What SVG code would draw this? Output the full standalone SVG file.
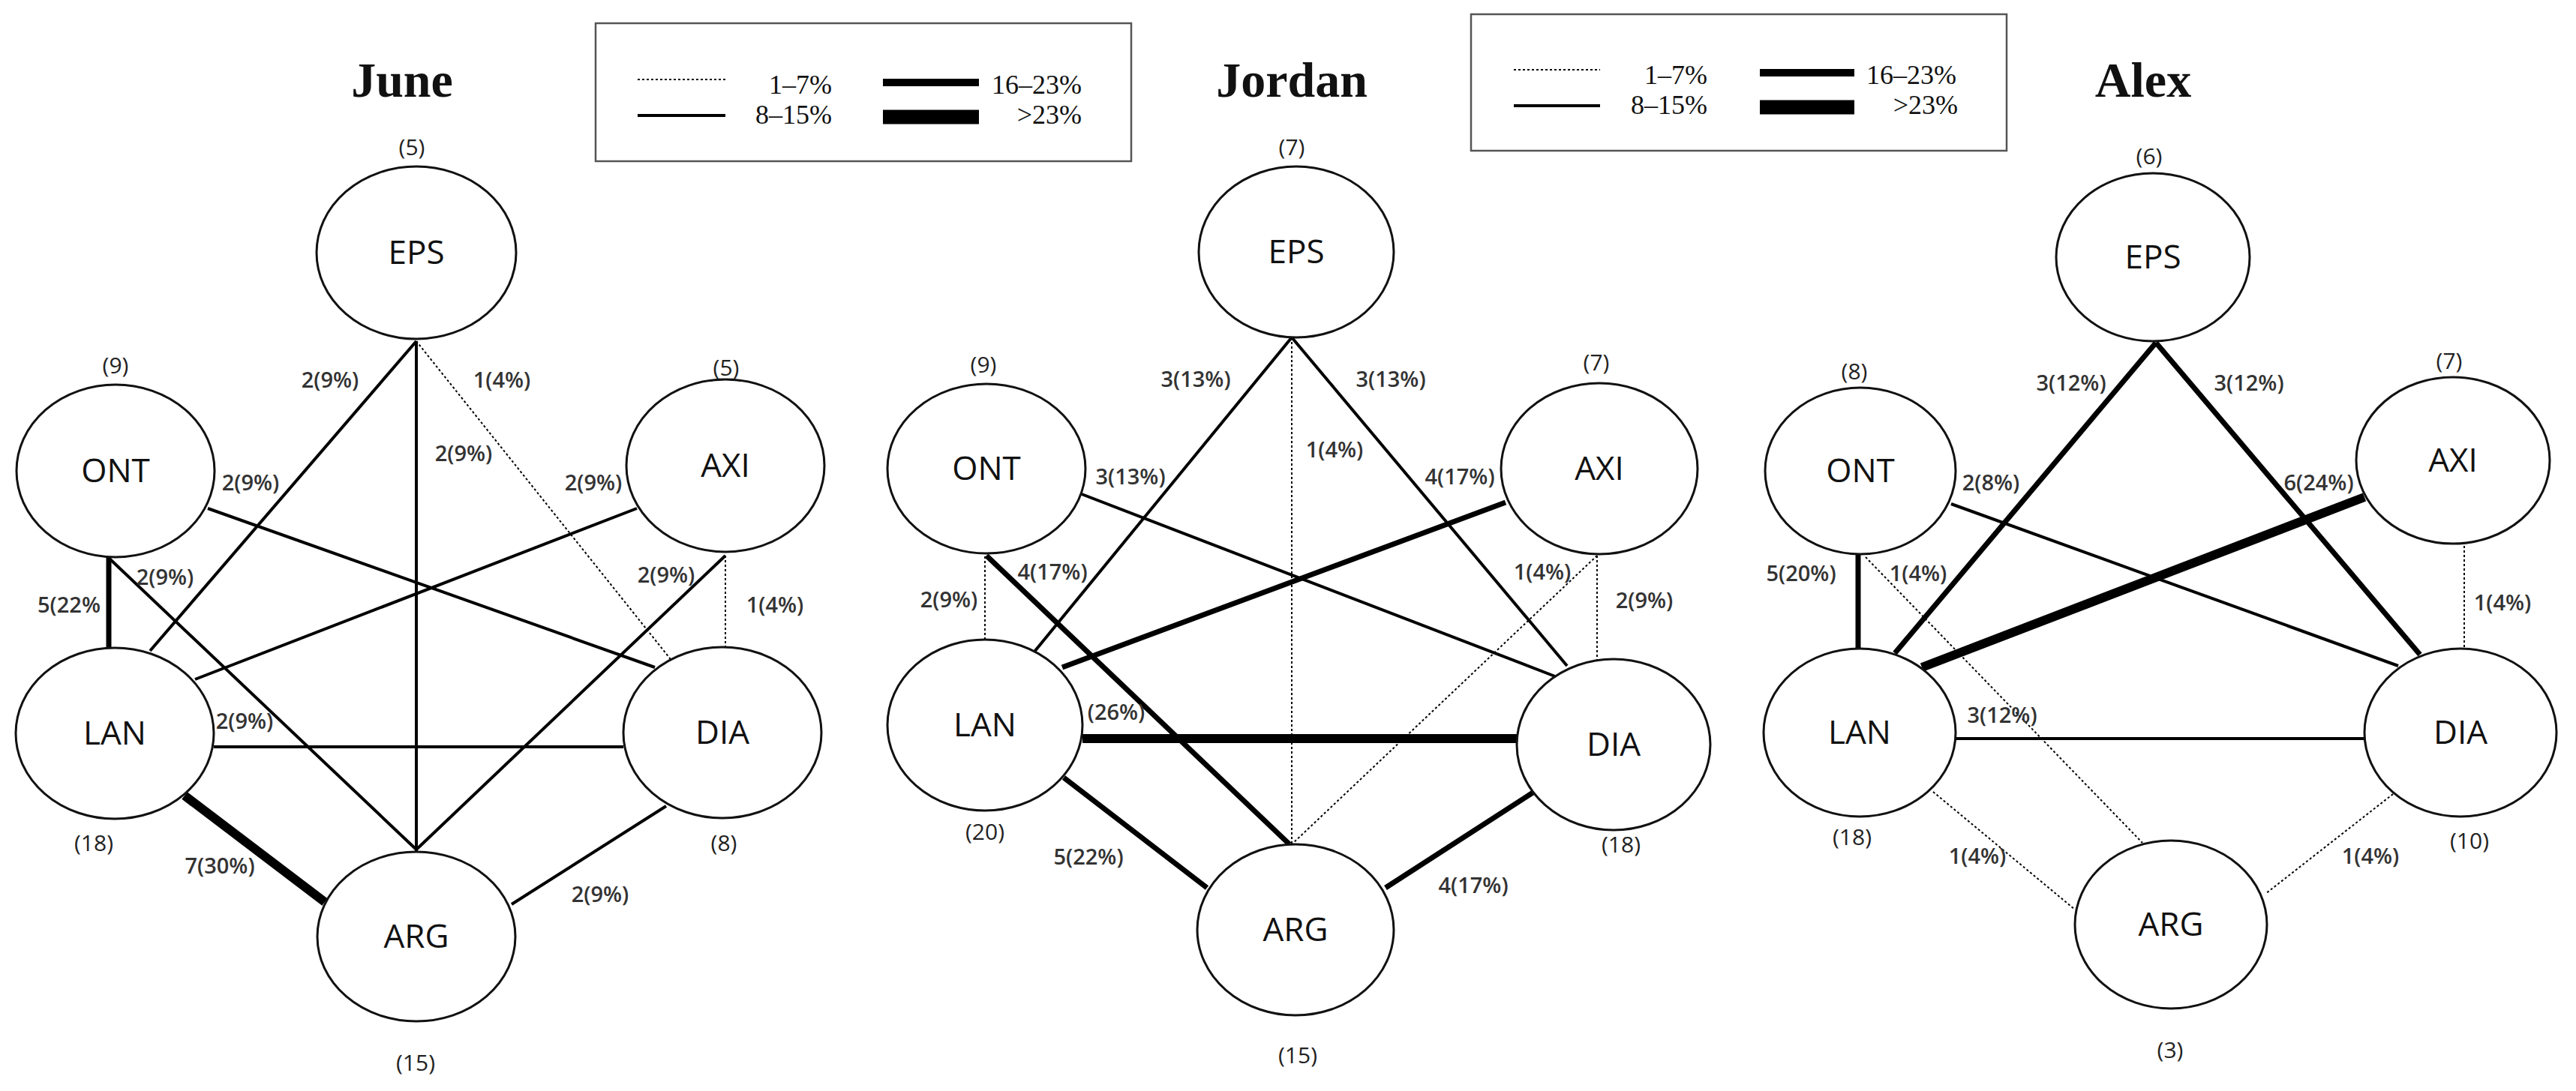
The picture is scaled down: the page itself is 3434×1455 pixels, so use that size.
<svg xmlns="http://www.w3.org/2000/svg" width="3434" height="1455" viewBox="0 0 3434 1455">
<style>
.bg{fill:#fff}
.n{fill:#fff;stroke:#111;stroke-width:3}
.nl{font-family:"Open Sans","Liberation Sans",sans-serif;font-size:44px;fill:#111;text-anchor:middle}
.cnt{font-family:"Open Sans","Liberation Sans",sans-serif;font-size:30px;fill:#222;text-anchor:middle}
.el{font-family:"Open Sans","Liberation Sans",sans-serif;font-size:29px;font-weight:600;fill:#333;text-anchor:middle}
.ttl{font-family:"Liberation Serif",serif;font-size:66px;font-weight:bold;fill:#111;text-anchor:middle}
.lg{font-family:"Liberation Serif",serif;font-size:36px;fill:#111}
.box{fill:#fff;stroke:#555;stroke-width:2.5}
.e{stroke:#000;fill:none}
.d{stroke-width:2;stroke-dasharray:3 3}
.s1{stroke-width:4}
.s2{stroke-width:7}
.s3{stroke-width:12}
</style>
<rect class="bg" x="0" y="0" width="3434" height="1455"/>
<g id="legend1">
<rect class="box" x="794" y="31" width="714" height="184"/>
<line class="e d" x1="850" y1="106" x2="967" y2="106"/>
<text class="lg" x="1109" y="125" text-anchor="end">1–7%</text>
<line class="e s1" x1="850" y1="154" x2="967" y2="154"/>
<text class="lg" x="1109" y="165" text-anchor="end">8–15%</text>
<line class="e" stroke-width="10" x1="1177" y1="110" x2="1305" y2="110"/>
<text class="lg" x="1442" y="125" text-anchor="end">16–23%</text>
<line class="e" stroke-width="19" x1="1177" y1="156" x2="1305" y2="156"/>
<text class="lg" x="1442" y="165" text-anchor="end">&gt;23%</text>
</g>
<g id="legend2">
<rect class="box" x="1961" y="19" width="714" height="182"/>
<line class="e d" x1="2018" y1="93" x2="2133" y2="93"/>
<text class="lg" x="2276" y="112" text-anchor="end">1–7%</text>
<line class="e s1" x1="2018" y1="141" x2="2133" y2="141"/>
<text class="lg" x="2276" y="152" text-anchor="end">8–15%</text>
<line class="e" stroke-width="10" x1="2346" y1="97" x2="2472" y2="97"/>
<text class="lg" x="2608" y="112" text-anchor="end">16–23%</text>
<line class="e" stroke-width="19" x1="2346" y1="143" x2="2472" y2="143"/>
<text class="lg" x="2610" y="152" text-anchor="end">&gt;23%</text>
</g>
<g id="titles">
<text class="ttl" x="536" y="129">June</text>
<text class="ttl" x="1722" y="129">Jordan</text>
<text class="ttl" x="2857" y="129">Alex</text>
</g>
<g id="connectors">
<!-- June -->
<line class="e s1" x1="555" y1="455" x2="200" y2="868"/>
<line class="e s1" x1="555" y1="455" x2="555" y2="1136"/>
<line class="e d" x1="555" y1="455" x2="901" y2="888"/>
<line class="e s1" x1="277" y1="678" x2="873" y2="890"/>
<line class="e s2" x1="145" y1="743" x2="145" y2="865"/>
<line class="e s1" x1="147" y1="746" x2="555" y2="1133"/>
<line class="e s1" x1="849" y1="678" x2="260" y2="906"/>
<line class="e s1" x1="967" y1="741" x2="555" y2="1133"/>
<line class="e d" x1="967" y1="741" x2="967" y2="864"/>
<line class="e s1" x1="285" y1="996" x2="831" y2="996"/>
<line class="e s3" x1="246" y1="1061" x2="433" y2="1203"/>
<line class="e s1" x1="888" y1="1075" x2="682" y2="1206"/>
<!-- Jordan -->
<line class="e s1" x1="1722" y1="450" x2="1379" y2="869"/>
<line class="e d" x1="1722" y1="450" x2="1722" y2="1126"/>
<line class="e s1" x1="1722" y1="450" x2="2089" y2="888"/>
<line class="e s1" x1="1442" y1="659" x2="2073" y2="902"/>
<line class="e d" x1="1313" y1="736" x2="1313" y2="854"/>
<line class="e s2" x1="1315" y1="741" x2="1719" y2="1126"/>
<line class="e s2" x1="2007" y1="670" x2="1416" y2="890"/>
<line class="e d" x1="2129" y1="741" x2="1722" y2="1126"/>
<line class="e d" x1="2129" y1="741" x2="2129" y2="880"/>
<line class="e s3" x1="1443" y1="985" x2="2023" y2="985"/>
<line class="e s2" x1="1418" y1="1037" x2="1609" y2="1184"/>
<line class="e s2" x1="2045" y1="1056" x2="1847" y2="1184"/>
<!-- Alex -->
<line class="e s2" x1="2874" y1="457" x2="2526" y2="871"/>
<line class="e s2" x1="2874" y1="457" x2="3226" y2="873"/>
<line class="e s1" x1="2601" y1="672" x2="3197" y2="888"/>
<line class="e s2" x1="2477" y1="739" x2="2477" y2="866"/>
<line class="e d" x1="2487" y1="743" x2="2856" y2="1124"/>
<line class="e s3" x1="3152" y1="663" x2="2562" y2="890"/>
<line class="e d" x1="3285" y1="728" x2="3285" y2="866"/>
<line class="e s1" x1="2606" y1="985" x2="3152" y2="985"/>
<line class="e d" x1="2577" y1="1056" x2="2766" y2="1213"/>
<line class="e d" x1="3190" y1="1059" x2="3020" y2="1192"/>
</g>
<g id="edge-labels">
<text class="el" x="440" y="517">2(9%)</text>
<text class="el" x="618" y="615">2(9%)</text>
<text class="el" x="669" y="517">1(4%)</text>
<text class="el" x="334" y="654">2(9%)</text>
<text class="el" x="92" y="817">5(22%</text>
<text class="el" x="220" y="780">2(9%)</text>
<text class="el" x="791" y="654">2(9%)</text>
<text class="el" x="888" y="777">2(9%)</text>
<text class="el" x="1033" y="817">1(4%)</text>
<text class="el" x="326" y="972">2(9%)</text>
<text class="el" x="293" y="1165">7(30%)</text>
<text class="el" x="800" y="1203">2(9%)</text>
<text class="el" x="1594" y="516">3(13%)</text>
<text class="el" x="1779" y="610">1(4%)</text>
<text class="el" x="1854" y="516">3(13%)</text>
<text class="el" x="1507" y="646">3(13%)</text>
<text class="el" x="1265" y="810">2(9%)</text>
<text class="el" x="1403" y="773">4(17%)</text>
<text class="el" x="1946" y="646">4(17%)</text>
<text class="el" x="2056" y="773">1(4%)</text>
<text class="el" x="2192" y="811">2(9%)</text>
<text class="el" x="1488" y="960">(26%)</text>
<text class="el" x="1451" y="1153">5(22%)</text>
<text class="el" x="1964" y="1191">4(17%)</text>
<text class="el" x="2761" y="521">3(12%)</text>
<text class="el" x="2998" y="521">3(12%)</text>
<text class="el" x="2654" y="654">2(8%)</text>
<text class="el" x="2401" y="775">5(20%)</text>
<text class="el" x="2557" y="775">1(4%)</text>
<text class="el" x="3091" y="654">6(24%)</text>
<text class="el" x="3336" y="814">1(4%)</text>
<text class="el" x="2669" y="964">3(12%)</text>
<text class="el" x="2636" y="1152">1(4%)</text>
<text class="el" x="3160" y="1152">1(4%)</text>
</g>
<!-- June nodes -->
<g id="june-EPS"><ellipse class="n" cx="555" cy="337" rx="133" ry="115"/><text class="nl" x="555" y="352">EPS</text><text class="cnt" x="549" y="207">(5)</text></g>
<g id="june-ONT"><ellipse class="n" cx="154" cy="628" rx="132" ry="115"/><text class="nl" x="154" y="643">ONT</text><text class="cnt" x="154" y="498">(9)</text></g>
<g id="june-AXI"><ellipse class="n" cx="967" cy="621" rx="132" ry="115"/><text class="nl" x="967" y="636">AXI</text><text class="cnt" x="968" y="501">(5)</text></g>
<g id="june-LAN"><ellipse class="n" cx="153" cy="978" rx="132" ry="114"/><text class="nl" x="153" y="993">LAN</text><text class="cnt" x="125" y="1135">(18)</text></g>
<g id="june-DIA"><ellipse class="n" cx="963" cy="977" rx="132" ry="114"/><text class="nl" x="963" y="992">DIA</text><text class="cnt" x="965" y="1135">(8)</text></g>
<g id="june-ARG"><ellipse class="n" cx="555" cy="1249" rx="132" ry="113"/><text class="nl" x="555" y="1264">ARG</text><text class="cnt" x="554" y="1428">(15)</text></g>
<!-- Jordan nodes -->
<g id="jordan-EPS"><ellipse class="n" cx="1728" cy="336" rx="130" ry="114"/><text class="nl" x="1728" y="351">EPS</text><text class="cnt" x="1722" y="207">(7)</text></g>
<g id="jordan-ONT"><ellipse class="n" cx="1315" cy="625" rx="132" ry="113"/><text class="nl" x="1315" y="640">ONT</text><text class="cnt" x="1311" y="497">(9)</text></g>
<g id="jordan-AXI"><ellipse class="n" cx="2132" cy="625" rx="131" ry="114"/><text class="nl" x="2132" y="640">AXI</text><text class="cnt" x="2128" y="494">(7)</text></g>
<g id="jordan-LAN"><ellipse class="n" cx="1313" cy="967" rx="130" ry="114"/><text class="nl" x="1313" y="982">LAN</text><text class="cnt" x="1313" y="1120">(20)</text></g>
<g id="jordan-DIA"><ellipse class="n" cx="2151" cy="993" rx="129" ry="114"/><text class="nl" x="2151" y="1008">DIA</text><text class="cnt" x="2161" y="1137">(18)</text></g>
<g id="jordan-ARG"><ellipse class="n" cx="1727" cy="1240" rx="131" ry="114"/><text class="nl" x="1727" y="1255">ARG</text><text class="cnt" x="1730" y="1418">(15)</text></g>
<!-- Alex nodes -->
<g id="alex-EPS"><ellipse class="n" cx="2870" cy="343" rx="129" ry="112"/><text class="nl" x="2870" y="358">EPS</text><text class="cnt" x="2865" y="219">(6)</text></g>
<g id="alex-ONT"><ellipse class="n" cx="2480" cy="628" rx="127" ry="111"/><text class="nl" x="2480" y="643">ONT</text><text class="cnt" x="2472" y="506">(8)</text></g>
<g id="alex-AXI"><ellipse class="n" cx="3270" cy="614" rx="129" ry="111"/><text class="nl" x="3270" y="629">AXI</text><text class="cnt" x="3265" y="492">(7)</text></g>
<g id="alex-LAN"><ellipse class="n" cx="2479" cy="977" rx="128" ry="112"/><text class="nl" x="2479" y="992">LAN</text><text class="cnt" x="2469" y="1127">(18)</text></g>
<g id="alex-DIA"><ellipse class="n" cx="3280" cy="977" rx="128" ry="112"/><text class="nl" x="3280" y="992">DIA</text><text class="cnt" x="3292" y="1132">(10)</text></g>
<g id="alex-ARG"><ellipse class="n" cx="2894" cy="1233" rx="128" ry="112"/><text class="nl" x="2894" y="1248">ARG</text><text class="cnt" x="2893" y="1411">(3)</text></g>
</svg>
